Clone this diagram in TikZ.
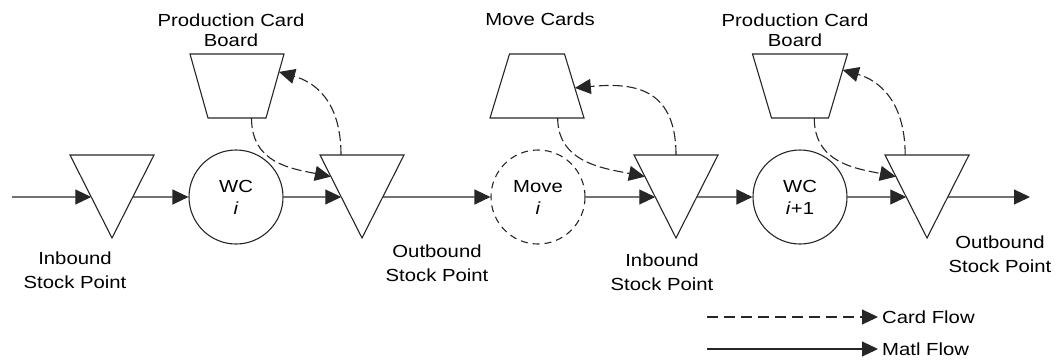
\documentclass[tikz,border=0pt]{standalone}
\usepackage{fontspec}
\setmainfont{Liberation Sans}[FakeStretch=1.16]
\usetikzlibrary{arrows.meta,calc}

% inverted triangle stock point: #1 name, #2 centre x
\newcommand\stockpoint[2]{%
  \coordinate (#1-l) at (#2-42,155);
  \coordinate (#1-r) at (#2+42,155);
  \coordinate (#1-a) at (#2,238);
  \draw[shapeline] (#1-l) -- (#1-r) -- (#1-a) -- cycle;
  \coordinate (#1-in) at ($(#1-l)!0.506!(#1-a)$);
  \coordinate (#1-out) at ($(#1-r)!0.506!(#1-a)$);
  \coordinate (#1-card) at ($(#1-l)!0.26!(#1-a)$);
}
% card board: #1 name, #2 centre x, #3 top half width, #4 bottom half width
\newcommand\cardboard[4]{%
  \coordinate (#1-tl) at (#2-#3,54);
  \coordinate (#1-tr) at (#2+#3,54);
  \coordinate (#1-br) at (#2+#4,118);
  \coordinate (#1-bl) at (#2-#4,118);
  \draw[shapeline] (#1-tl) -- (#1-tr) -- (#1-br) -- (#1-bl) -- cycle;
}

\begin{document}
\begin{tikzpicture}[x=1pt,y=-1pt,
  shapeline/.style={draw=black!85, line width=1.1pt},
  matl/.style={draw=black!85, line width=1.1pt, -{Triangle[length=16pt,width=15pt]}},
  card/.style={matl, dash pattern=on 10pt off 4pt},
  wc/.style={circle, shapeline, minimum size=94pt, inner sep=0pt,
    align=center, font=\fontsize{17.5}{22}\selectfont},
  lbl/.style={align=center, inner sep=0pt, font=\fontsize{17.5}{24}\selectfont},
  boardlbl/.style={lbl, font=\fontsize{17.5}{20}\selectfont}]
\useasboundingbox (0,0) rectangle (1056,362);

% stock points
\stockpoint{t1}{112}
\stockpoint{t2}{362}
\stockpoint{t3}{676}
\stockpoint{t4}{927}

% card boards
\cardboard{b1}{237}{47}{29}
\cardboard{mc}{537}{27.5}{47}
\cardboard{b2}{800}{47.5}{28.5}

% work centres and move step
\node[wc] (wc1) at (236,197) {WC\\\textit{i}};
\node[wc, dash pattern=on 7pt off 5pt] (mv) at (538,197) {Move\\\textit{i}};
\node[wc] (wc2) at (800,197) {WC\\\textit{i}+1};

% material flow
\coordinate (src) at (12,197);
\coordinate (snk) at (1030,197);
\draw[matl] (src) -- (t1-in);
\draw[matl] (t1-out) -- (wc1);
\draw[matl] (wc1) -- (t2-in);
\draw[matl] (t2-out) -- (mv);
\draw[matl] (mv) -- (t3-in);
\draw[matl] (t3-out) -- (wc2);
\draw[matl] (wc2) -- (t4-in);
\draw[matl] (t4-out) -- (snk);

% card flow
\coordinate (b1-out) at ($(b1-bl)!0.75!(b1-br)$);
\coordinate (b1-ret) at ($(b1-tr)!0.28!(b1-br)$);
\coordinate (t2-top) at ($(t2-l)!0.25!(t2-r)$);
\draw[card] (b1-out) .. controls ($(b1-out)+(0,45)$) and ($(t2-card)+(-40,-8)$) .. (t2-card);
\draw[card] (t2-top) .. controls ($(t2-top)+(0,-55)$) and ($(b1-ret)+(35,10)$) .. (b1-ret);

\coordinate (mc-out) at ($(mc-bl)!0.72!(mc-br)$);
\coordinate (mc-ret) at ($(mc-tr)!0.53!(mc-br)$);
\coordinate (t3-top) at ($(t3-l)!0.5!(t3-r)$);
\draw[card] (mc-out) .. controls ($(mc-out)+(0,45)$) and ($(t3-card)+(-40,-8)$) .. (t3-card);
\draw[card] (t3-top) .. controls ($(t3-top)+(0,-70)$) and ($(mc-ret)+(55,-5)$) .. (mc-ret);

\coordinate (b2-out) at ($(b2-bl)!0.75!(b2-br)$);
\coordinate (b2-ret) at ($(b2-tr)!0.25!(b2-br)$);
\coordinate (t4-top) at ($(t4-l)!0.24!(t4-r)$);
\draw[card] (b2-out) .. controls ($(b2-out)+(0,45)$) and ($(t4-card)+(-40,-8)$) .. (t4-card);
\draw[card] (t4-top) .. controls ($(t4-top)+(0,-55)$) and ($(b2-ret)+(35,10)$) .. (b2-ret);

% labels
\node[boardlbl] (lb1) at (231,30.4) {Production Card\\Board};
\node[boardlbl] (lmc) at (540,19.7) {Move Cards};
\node[boardlbl] (lb2) at (795,30.5) {Production Card\\Board};
\node[lbl] (lt1) at (75,270.7) {Inbound\\Stock Point};
\node[lbl] (lt2) at (437,263) {Outbound\\Stock Point};
\node[lbl] (lt3) at (662,272) {Inbound\\Stock Point};
\node[lbl] (lt4) at (1000,254.7) {Outbound\\Stock Point};

% legend
\coordinate (cl0) at (707,317);
\node[lbl, anchor=west] (cl) at (882,317) {Card Flow};
\coordinate (ml0) at (707,349);
\node[lbl, anchor=west] (ml) at (882,349) {Matl Flow};
\draw[card, dash pattern=on 11pt off 6pt, shorten >=4pt] (cl0) -- (cl.west);
\draw[matl, shorten >=4pt] (ml0) -- (ml.west);
\end{tikzpicture}
\end{document}
